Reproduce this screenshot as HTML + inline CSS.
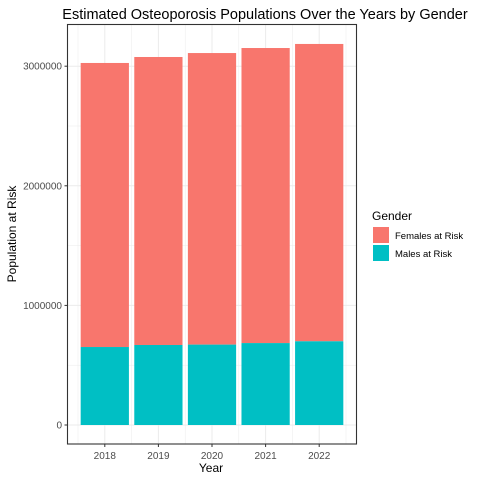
<!DOCTYPE html>
<html><head><meta charset="utf-8"><style>body{margin:0;background:#fff}svg{font-family:"Liberation Sans",sans-serif}</style></head>
<body>
<svg id="c" width="480" height="480">
<text x="265" y="19" font-size="14.5" text-anchor="middle" fill="#000">Estimated Osteoporosis Populations Over the Years by Gender</text>
<g id="grid"></g><g id="bars"></g><g id="axes"></g>
<rect x="67.5" y="24.5" width="289" height="419.5" fill="none" stroke="#333" stroke-width="1.1"/>
<text x="211" y="472" font-size="12" text-anchor="middle">Year</text>
<text transform="translate(16,234) rotate(-90)" font-size="12" text-anchor="middle">Population at Risk</text>
<g>
<text x="372" y="220" font-size="12">Gender</text>
<rect x="373" y="227" width="16" height="16" fill="#F8766D"/>
<text x="395" y="239" font-size="9.5">Females at Risk</text>
<rect x="373" y="245" width="16" height="16" fill="#00BFC4"/>
<text x="395" y="257" font-size="9.5">Males at Risk</text>
</g>
</svg>
<script>
const years=["2018","2019","2020","2021","2022"];
const totals=[3027000,3077000,3110000,3152000,3186000];
const males=[652000,669000,672000,685000,700000];
const yTicks=[0,1000000,2000000,3000000];
const NS="http://www.w3.org/2000/svg";
const X0=67.5,X1=356.5,unit=53.6,pad=(X1-X0-4*unit)/2;
const xs=i=>X0+pad+i*unit;
const ys=v=>425-v*119.6/1e6;
function mk(t,a,p){const e=document.createElementNS(NS,t);for(const k in a)e.setAttribute(k,a[k]);p.appendChild(e);return e;}
const g=document.getElementById('grid'),b=document.getElementById('bars'),ax=document.getElementById('axes');
for(let v=-500000;v<=3500000;v+=500000){const y=ys(v);if(y<24.5||y>444)continue;const l=mk('line',{x1:X0,x2:X1,y1:y,y2:y,stroke:'#ebebeb','stroke-width':v%1000000===0?1:0.5},g);

}
for(let i=-0.5;i<=4.5;i+=0.5){const x=xs(i);if(x<X0||x>X1)continue;const l=mk('line',{x1:x,x2:x,y1:24.5,y2:444,stroke:'#ebebeb','stroke-width':Number.isInteger(i)?1:0.5},g);

}
const bw=unit*0.9;
years.forEach((yr,i)=>{const x=xs(i)-bw/2;
const f=mk('rect',{x:x,y:ys(totals[i]),width:bw,height:ys(males[i])-ys(totals[i]),fill:'#F8766D'},b);


const m=mk('rect',{x:x,y:ys(males[i]),width:bw,height:ys(0)-ys(males[i]),fill:'#00BFC4'},b);


mk('line',{x1:xs(i),x2:xs(i),y1:444,y2:447,stroke:'#333'},ax);
const t=mk('text',{x:xs(i),y:459,'font-size':10,'text-anchor':'middle',fill:'#4d4d4d'},ax);t.textContent=yr;

});
yTicks.forEach(v=>{const y=ys(v);mk('line',{x1:64.5,x2:67.5,y1:y,y2:y,stroke:'#333'},ax);
const t=mk('text',{x:62,y:y+3.5,'font-size':10,'text-anchor':'end',fill:'#4d4d4d'},ax);t.textContent=String(v);

});
</script>
</body></html>
